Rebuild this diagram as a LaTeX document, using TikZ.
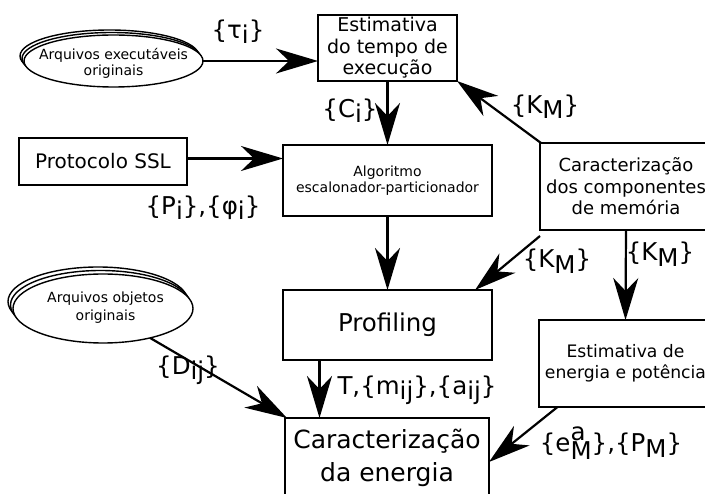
\documentclass[tikz,border=0pt]{standalone}
\usepackage{fontspec}
\setmainfont{DejaVu Sans}
\usetikzlibrary{arrows.meta,shapes.geometric}
\newcommand\sbx[1]{\raisebox{-0.22em}{#1}}
\begin{document}
\begin{tikzpicture}[x=1pt,y=-1pt,
  box/.style={draw,line width=2pt,inner sep=0pt,outer sep=0pt,align=center},
  ell/.style={ellipse,draw,line width=1.4pt,fill=white,inner sep=0pt,outer sep=0pt},
  arr/.style={line width=2.2pt,-{Stealth[length=42pt,width=25pt,inset=13pt]}},
  lab/.style={font=\fontsize{24.5}{28}\selectfont,inner sep=0pt}]
\useasboundingbox (0,0) rectangle (705,494);
% ellipses
\node[ell,minimum width=179,minimum height=52] (e1b2) at (109.5,56) {};
\node[ell,minimum width=179,minimum height=52] (e1b1) at (111.5,58.5) {};
\node[ell,minimum width=179,minimum height=52] (e1) at (113.5,61) {};
\node[align=center,font=\fontsize{14}{16}\selectfont] (e1t) at (113.5,63) {Arquivos executáveis\\originais};
\node[ell,minimum width=180,minimum height=69] (e2b2) at (98,301.5) {};
\node[ell,minimum width=180,minimum height=69] (e2b1) at (100.5,305) {};
\node[ell,minimum width=180,minimum height=69] (e2) at (103,308.5) {};
\node[align=center,font=\fontsize{14}{18}\selectfont] (e2t) at (105.5,308) {Arquivos objetos\\originais};
% boxes
\node[box,minimum width=139,minimum height=66,font=\fontsize{19}{21.5}\selectfont] (b1) at (387.5,48) {Estimativa\\do tempo de\\execução};
\node[box,minimum width=168,minimum height=47,font=\fontsize{20}{24}\selectfont] (prot) at (103,161.5) {Protocolo SSL};
\node[box,minimum width=209,minimum height=71,font=\fontsize{14}{16.5}\selectfont] (algo) at (387.5,180.5) {Algoritmo\\escalonador-particionador};
\node[box,minimum width=172,minimum height=87,font=\fontsize{18}{21.5}\selectfont] (mem) at (626,186.5) {Caracterização\\dos componentes\\de memória};
\node[box,minimum width=209,minimum height=70,font=\fontsize{24.5}{28}\selectfont] (prof) at (387.5,325) {Profiling};
\node[box,minimum width=173,minimum height=87,font=\fontsize{17.2}{21}\selectfont] (est) at (625.5,363.5) {Estimativa de\\energia e potência};
\node[box,minimum width=204,minimum height=80,font=\fontsize{25}{33}\selectfont] (care) at (387,458) {Caracterização\\da energia};
% connectors
\draw[arr] (e1.east) -- (b1.west |- e1.east);
\node[lab] (l1) at (238,32) {\{τ\sbx{i}\}};
\draw[arr] (b1.south) -- (algo.north);
\node[lab] (l2) at (350,111) {\{C\sbx{i}\}};
\draw[arr] ([yshift=3pt]prot.east) -- ([yshift=3pt]prot.east -| algo.west);
\node[lab] (l3) at (203,208) {\{P\sbx{i}\},\{φ\sbx{i}\}};
\draw[arr] ([xshift=-85pt]mem.north) -- (b1.south east);
\node[lab] (l4) at (545,107) {\{K\sbx{M}\}};
\draw[arr] (algo.south) -- (prof.north);
\draw[arr] ([yshift=-6pt]mem.south west) -- ([xshift=-17pt]prof.north east);
\node[lab] (l5) at (557,261) {\{K\sbx{M}\}};
\draw[arr] (mem.south) -- (est.north);
\node[lab] (l6) at (660,254) {\{K\sbx{M}\}};
\draw[arr] (e2.-32) -- ([xshift=2pt]care.north west);
\node[lab] (l7) at (188,370) {\{D\sbx{ij}\}};
\draw[arr] ([xshift=-68pt]prof.south) -- ([xshift=-68pt]prof.south |- care.north);
\node[lab] (l8) at (417,390) {T,\{m\sbx{ij}\},\{a\sbx{ij}\}};
\draw[arr] ([xshift=-68pt]est.south) -- ([yshift=-4pt]care.east);
\node[lab] (l9) at (611,443) {\{e\rlap{\raisebox{0.47em}{a}}\raisebox{-0.3em}{M}\},\{P\sbx{M}\}};
\end{tikzpicture}
\end{document}
